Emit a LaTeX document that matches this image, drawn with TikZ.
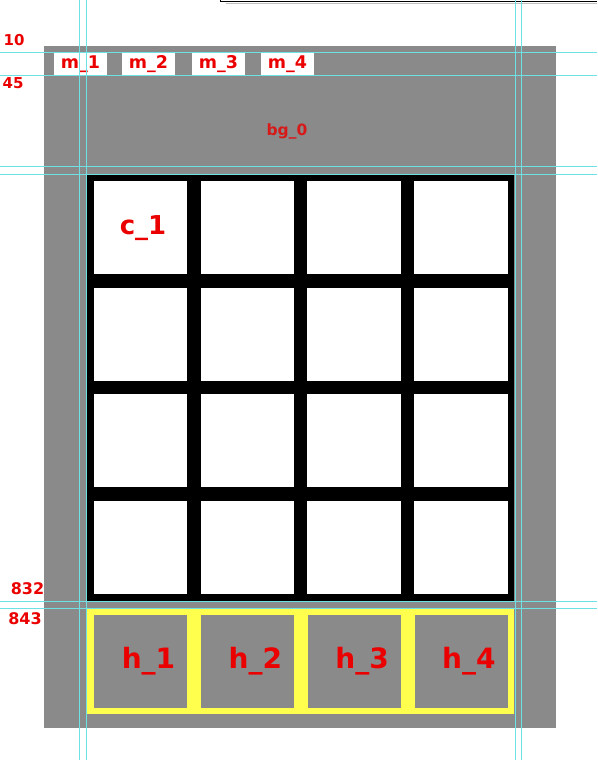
\documentclass[tikz,border=0pt]{standalone}
\usepackage{fontspec}
\setmainfont{DejaVu Sans}
\definecolor{a}{RGB}{138, 138, 138}
\definecolor{b}{RGB}{255, 255, 77}
\definecolor{c}{RGB}{235, 0, 0}
\definecolor{d}{RGB}{110, 225, 228}
\definecolor{e}{RGB}{215, 25, 25}

\begin{document}
\begin{tikzpicture}[x=1pt,y=-1pt,
	mbox/.style={fill=white,inner sep=0,minimum width=53pt,text height=15pt,text depth=7pt,text=c,font=\bfseries\fontsize{17.5}{17.5}\selectfont},
	cell/.style={fill=white,inner sep=0,minimum width=93.5pt,minimum height=93pt},
	hole/.style={fill=a,inner sep=0,minimum width=93pt,minimum height=93pt},
	tag/.style={text=c,inner sep=0,anchor=base,font=\bfseries\fontsize{16}{16}\selectfont}]
			\useasboundingbox (0,0) rectangle (597,760);
			\fill[white] (0,0) rectangle (597,760);
			\draw[line width=1.5pt] (220.5,0) -- (220.5,1.5) -- (597,1.5); % bord de fenetre
			\draw[black!25,line width=1.5pt] (226,3.5) -- (597,3.5);
			\fill[a] (44,46) rectangle (556,728); % le fond
			\foreach \i/\x in {1/80.5,2/148.5,3/218.5,4/287.5}{
				\node[mbox] (m-\i) at (\x,64) {m\_\i};}
			\node[tag,text=e,font=\bfseries\fontsize{15.5}{15.5}\selectfont] (bg-0) at (287,135) {bg\_0};
			% la grille
			\fill (87,175) rectangle (514,600.5);
			\foreach \Col in {0,...,3}{
				\foreach \Row in {0,...,3}{
					\node[cell] (c-\Row-\Col) at ({140.5+106.8*\Col},{227.5+106.7*\Row}) {};}}
			\node[tag,font=\bfseries\fontsize{26}{26}\selectfont] (c-1) at (143,234) {c\_1};
			% la barre du bas
			\fill[b] (87,608.5) rectangle (514,714);
			\foreach \i in {1,...,4}{
				\node[hole] (h-\i) at ({140.3+106.9*(\i-1)},661.5) {};
				\node[tag,font=\bfseries\fontsize{28}{28}\selectfont] (h-\i-t) at ({148.5+106.8*(\i-1)},668) {h\_\i};}
			\foreach \n/\x/\y in {10/14/45.7,45/13/88.3}{
				\node[tag,font=\bfseries\fontsize{15}{15}\selectfont] (n-\n) at (\x,\y) {\n};}
			\foreach \n/\x/\y in {832/27.5/594,843/25/624}{
				\node[tag] (n-\n) at (\x,\y) {\n};}
			% les guides
			\foreach \x in {79.5,86.5,515.5,521.5}
				\draw[d,line width=1pt] (\x,0) -- (\x,760);
			\foreach \y in {52.5,75.5,166.5,174.5,601.5,608.5}
				\draw[d,line width=1pt] (0,\y) -- (597,\y);
\end{tikzpicture}
\end{document}
